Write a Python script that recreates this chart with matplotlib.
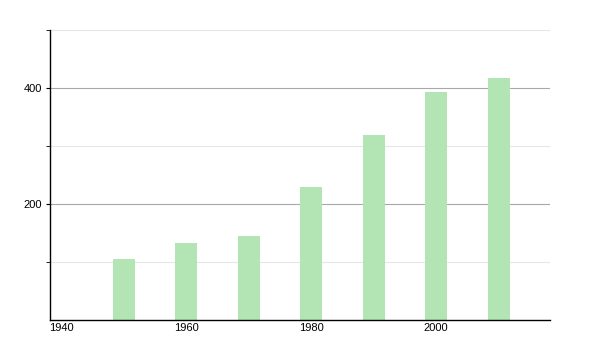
import matplotlib
matplotlib.use("Agg")
import matplotlib.pyplot as plt

years = [1950, 1960, 1970, 1980, 1990, 2000, 2010]
values = [105, 133, 145, 229, 319, 393, 417]
x_ticks = [1940, 1960, 1980, 2000]
y_major = [200, 400]
y_minor = [100, 300, 500]

BAR_COLOR = "#b3e4b3"

plt.rcParams["font.family"] = ["Liberation Sans", "DejaVu Sans"]

fig = plt.figure(figsize=(6, 3.5), dpi=100)
ax = fig.add_axes([50 / 600, 30 / 350, 500 / 600, 290 / 350])

ax.bar(years, values, width=3.5, color=BAR_COLOR, zorder=2)

ax.set_xlim(1938.2, 2018.2)
ax.set_ylim(0, 500)

ax.set_xticks(x_ticks)
ax.set_xticklabels([str(t) for t in x_ticks])
ax.set_yticks(y_major)
ax.set_yticks(y_minor, minor=True)

ax.grid(axis="y", which="major", color="#a8a8a8", linewidth=0.8, zorder=0)
ax.grid(axis="y", which="minor", color="#e6e6e6", linewidth=0.8, zorder=0)

for side in ("top", "right"):
    ax.spines[side].set_visible(False)
ax.spines["left"].set_linewidth(1.0)
ax.spines["bottom"].set_linewidth(1.0)

ax.tick_params(axis="x", length=0, pad=2.5, labelsize=8)
ax.tick_params(axis="y", which="both", length=3, pad=3, labelsize=8)

fig.savefig("out.png", dpi=100)
